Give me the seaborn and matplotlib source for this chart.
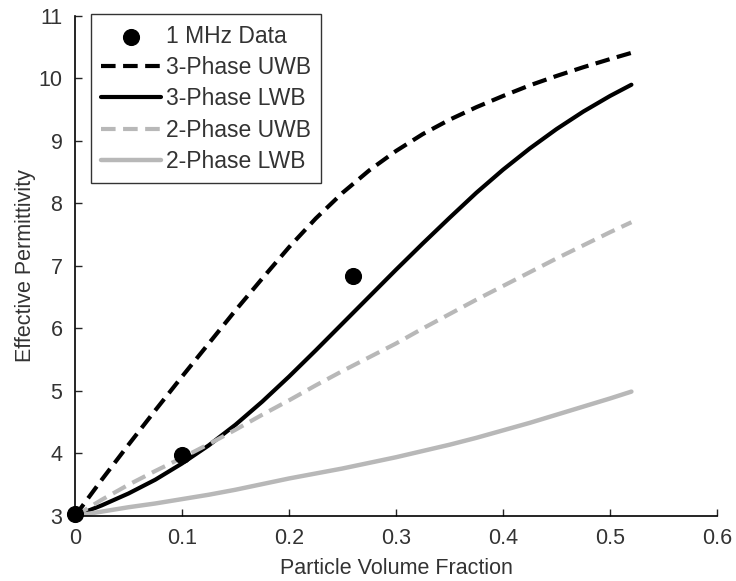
import matplotlib
matplotlib.use("Agg")
import matplotlib.pyplot as plt
import seaborn as sns
import pandas as pd

# Data
vf = [0.0, 0.025, 0.05, 0.075, 0.10, 0.125, 0.15, 0.175, 0.20, 0.225, 0.25, 0.275,
      0.30, 0.325, 0.35, 0.375, 0.40, 0.425, 0.45, 0.475, 0.50, 0.52]
uwb3 = [3.0, 3.58, 4.14, 4.69, 5.23, 5.76, 6.29, 6.80, 7.30, 7.76, 8.17, 8.53,
        8.84, 9.11, 9.34, 9.54, 9.72, 9.89, 10.04, 10.18, 10.31, 10.41]
lwb3 = [3.0, 3.17, 3.36, 3.58, 3.84, 4.13, 4.46, 4.83, 5.23, 5.65, 6.08, 6.51,
        6.94, 7.36, 7.77, 8.17, 8.54, 8.88, 9.19, 9.47, 9.72, 9.90]
uwb2 = [3.0, 3.26, 3.50, 3.72, 3.93, 4.15, 4.38, 4.62, 4.85, 5.09, 5.32, 5.54,
        5.76, 6.00, 6.23, 6.46, 6.68, 6.90, 7.12, 7.33, 7.54, 7.70]
lwb2 = [3.0, 3.07, 3.14, 3.20, 3.27, 3.34, 3.42, 3.51, 3.60, 3.68, 3.76, 3.85,
        3.94, 4.04, 4.14, 4.25, 4.37, 4.49, 4.62, 4.75, 4.88, 4.99]
data_x = [0.0, 0.10, 0.26]
data_y = [3.03, 3.98, 6.84]

labels = ["1 MHz Data", "3-Phase UWB", "3-Phase LWB", "2-Phase UWB", "2-Phase LWB"]
xticks = [0, 0.1, 0.2, 0.3, 0.4, 0.5, 0.6]
yticks = [3, 4, 5, 6, 7, 8, 9, 10, 11]

sns.set_style("white")
plt.rcParams['font.family'] = ['Liberation Sans', 'DejaVu Sans']

fig = plt.figure(figsize=(7.36, 5.81), dpi=100)
ax = fig.add_axes([0.1019, 0.1119, 0.8723, 0.8606])

gray = "#b8b8b8"
df = pd.DataFrame({"x": vf, "uwb3": uwb3, "lwb3": lwb3, "uwb2": uwb2, "lwb2": lwb2})

sns.lineplot(data=df, x="x", y="uwb3", ax=ax, color="black", lw=3, label=labels[1])
sns.lineplot(data=df, x="x", y="lwb3", ax=ax, color="black", lw=3, label=labels[2])
sns.lineplot(data=df, x="x", y="uwb2", ax=ax, color=gray, lw=3, label=labels[3])
sns.lineplot(data=df, x="x", y="lwb2", ax=ax, color=gray, lw=3.2, label=labels[4])
ax.lines[0].set_dashes([3.5, 1.8])
ax.lines[2].set_dashes([3.5, 1.8])
sns.scatterplot(x=data_x, y=data_y, ax=ax, color="black", s=130, edgecolor="black",
                label=labels[0], zorder=5, clip_on=False)

ax.set_xlim(0, 0.6)
ax.set_ylim(3, 11)
ax.set_xticks(xticks)
ax.set_xticklabels(["0", "0.1", "0.2", "0.3", "0.4", "0.5", "0.6"])
ax.set_yticks(yticks)
fs = 15.5
ax.set_xlabel("Particle Volume Fraction", fontsize=fs, color="#333333", labelpad=6)
ax.set_ylabel("Effective Permittivity", fontsize=fs, color="#333333", labelpad=2)
ax.tick_params(axis="x", direction="in", length=5, width=1, labelsize=fs,
               labelcolor="#333333", bottom=True, pad=9)
ax.tick_params(axis="y", direction="in", length=5, width=1, labelsize=fs,
               labelcolor="#333333", left=True, pad=9)
for s in ["top", "right"]:
    ax.spines[s].set_visible(False)
for s in ["left", "bottom"]:
    ax.spines[s].set_color("black")
    ax.spines[s].set_linewidth(1.2)

handles, lbls = ax.get_legend_handles_labels()
order = [lbls.index(l) for l in labels]
leg = ax.legend([handles[i] for i in order], [lbls[i] for i in order],
                loc="upper left", bbox_to_anchor=(0.025, 1.003), fontsize=16.5,
                frameon=True, fancybox=False, edgecolor="black", borderpad=0.45,
                handlelength=2.6, handletextpad=0.2, labelspacing=0.36,
                borderaxespad=0)
leg.get_frame().set_linewidth(1.0)
for t in leg.get_texts():
    t.set_color("#333333")

fig.savefig("out.png", dpi=100)
